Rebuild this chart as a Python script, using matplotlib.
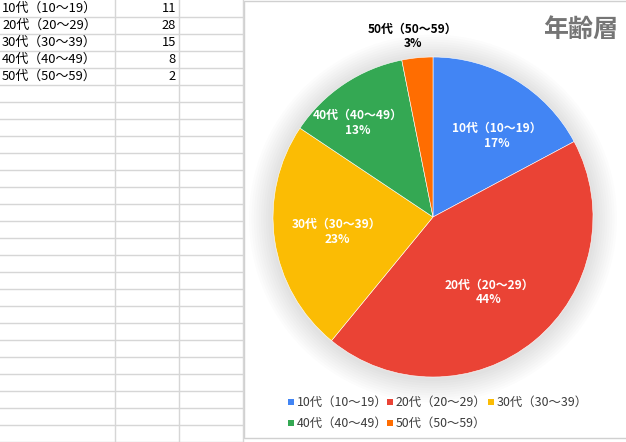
import matplotlib.pyplot as plt
from matplotlib.patches import Rectangle, Circle
from matplotlib.transforms import offset_copy

plt.rcParams['font.family'] = ['Noto Sans CJK JP', 'DejaVu Sans']

# data
categories = ['10代（10～19）', '20代（20～29）', '30代（30～39）', '40代（40～49）', '50代（50～59）']
counts = [11, 28, 15, 8, 2]
colors = ['#4285F4', '#EA4335', '#FBBC04', '#34A853', '#FF6D01']
title = '年齢層'

# label spots inside the pie (pie units), last one sits outside
label_pos = [(0.40, 0.51), (0.35, -0.47), (-0.60, -0.09), (-0.47, 0.59), (-0.125, 1.13)]
label_col = ['white', 'white', 'white', 'white', 'black']

W, H = 626, 442
fig = plt.figure(figsize=(W / 100, H / 100), dpi=100)

# background sheet in pixel coords (y goes down)
bg = fig.add_axes([0, 0, 1, 1])
bg.set_xlim(0, W)
bg.set_ylim(H, 0)
bg.axis('off')

grid_c = '#d6d6d6'
for k in range(1, 27):
    bg.plot([0, 243], [17 * k, 17 * k], color=grid_c, lw=1)
for x in [114.5, 178.5, 242.5]:
    bg.plot([x, x], [0, H], color=grid_c, lw=1)

for i, (cat, n) in enumerate(zip(categories, counts)):
    y = 17 * i + 8.5
    bg.text(2, y, cat, fontsize=9.3, va='center', ha='left', color='black')
    bg.text(176, y, str(n), fontsize=9.3, va='center', ha='right', color='black')

# chart box
bg.add_patch(Rectangle((243.5, 0.5), W - 243, 437, facecolor='white', edgecolor='#d0d0d0', lw=1))

bg.text(618, 30, title, fontsize=18, fontweight='bold', color='#757575', ha='right', va='center')

# legend, drawn by hand like the sheets one
leg_rows = [402, 423]
leg_cols = [291, 390, 491]
for i, (cat, c) in enumerate(zip(categories, colors)):
    x = leg_cols[i % 3]
    y = leg_rows[i // 3]
    bg.add_patch(Rectangle((x - 3, y - 3), 6, 6, facecolor=c, edgecolor='none'))
    bg.text(x + 6, y, cat, fontsize=8.9, color='#3c3c3c', ha='left', va='center')

# pie
cx, cy, r = 433, 217, 160
ax = fig.add_axes([(cx - r) / W, (H - cy - r) / H, 2 * r / W, 2 * r / H])
ax.set_xlim(-1, 1)
ax.set_ylim(-1, 1)
ax.axis('off')

# soft shadow around the pie
for k in range(10):
    ax.add_patch(Circle((0, -0.01), 1.0 + 0.015 * (10 - k), facecolor='black', alpha=0.012, lw=0,
                        clip_on=False))

wedges, _ = ax.pie(counts, colors=colors, startangle=90, counterclock=False, radius=1,
                   wedgeprops=dict(linewidth=0.4, edgecolor='white'))
ax.set_xlim(-1, 1)
ax.set_ylim(-1, 1)

total = sum(counts)
for cat, n, (lx, ly), tc in zip(categories, counts, label_pos, label_col):
    pct = '%d%%' % int(100 * n / total + 0.5)
    ax.text(lx, ly, cat, transform=offset_copy(ax.transData, fig=fig, y=5.3, units='points'),
            fontsize=8.6, fontweight='bold', color=tc, ha='center', va='center', clip_on=False)
    ax.text(lx, ly, pct, transform=offset_copy(ax.transData, fig=fig, y=-5.5, units='points'),
            fontsize=8.6, fontweight='bold', color=tc, ha='center', va='center', clip_on=False)

fig.savefig('out.png', dpi=100)
